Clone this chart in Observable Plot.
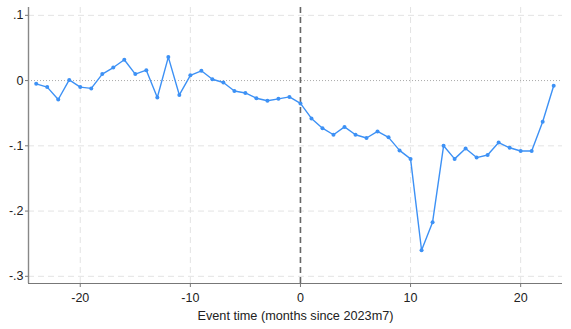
<!DOCTYPE html>
<html>
<head>
<meta charset="utf-8">
<script src="https://cdn.jsdelivr.net/npm/d3@7"></script>
<script src="https://cdn.jsdelivr.net/npm/@observablehq/plot@0.6"></script>
<style>
  html, body { margin: 0; padding: 0; background: #fff; }
  svg { font-family: "Liberation Sans", Arial, sans-serif; }
</style>
</head>
<body>
<div id="chart"></div>
<script>
const eventTime = [-24,-23,-22,-21,-20,-19,-18,-17,-16,-15,-14,-13,-12,-11,-10,-9,-8,-7,-6,-5,-4,-3,-2,-1,0,1,2,3,4,5,6,7,8,9,10,11,12,13,14,15,16,17,18,19,20,21,22,23];
const coef = [-0.005,-0.010,-0.029,0.001,-0.010,-0.012,0.010,0.020,0.032,0.010,0.016,-0.026,0.036,-0.022,0.008,0.015,0.002,-0.003,-0.016,-0.019,-0.027,-0.031,-0.028,-0.025,-0.035,-0.058,-0.073,-0.083,-0.071,-0.083,-0.088,-0.078,-0.087,-0.107,-0.120,-0.260,-0.217,-0.100,-0.120,-0.104,-0.118,-0.114,-0.095,-0.103,-0.108,-0.108,-0.063,-0.008];
const xTicks = [-20,-10,0,10,20];
const yTicks = [-0.3,-0.2,-0.1,0,0.1];
const xLabel = "Event time (months since 2023m7)";

const data = eventTime.map((t, i) => ({t, b: coef[i]}));
const fmtY = d => d === 0 ? "0" : d3.format(".1f")(d).replace("\u2212", "-").replace("0.", ".");
const fmtX = d => String(d).replace("\u2212", "-");

const chart = Plot.plot({
  width: 571,
  height: 329,
  marginLeft: 28,
  marginRight: 9,
  marginTop: 7,
  marginBottom: 46,
  style: {fontFamily: "Liberation Sans, Arial, sans-serif", fontSize: "12px", color: "#222", background: "#fff"},
  x: {domain: [-24.7, 23.8]},
  y: {domain: [-0.311, 0.112]},
  marks: [
    Plot.ruleY(yTicks.filter(d => d !== 0), {stroke: "#e3e3e3", strokeWidth: 1, strokeDasharray: "6,4"}),
    Plot.ruleX(xTicks.filter(d => d !== 0), {stroke: "#e3e3e3", strokeWidth: 1, strokeDasharray: "6,4"}),
    Plot.ruleY([0], {stroke: "#aaa", strokeWidth: 1, strokeDasharray: "1,2"}),
    Plot.ruleX([0], {stroke: "#666", strokeWidth: 1.6, strokeDasharray: "6,4"}),
    Plot.line(data, {x: "t", y: "b", stroke: "#3d91f5", strokeWidth: 1.4}),
    Plot.dot(data, {x: "t", y: "b", fill: "#3d91f5", r: 2}),
    Plot.ruleX([-24.7], {stroke: "#888", strokeWidth: 1.4}),
    Plot.ruleY([-0.311], {stroke: "#777", strokeWidth: 1}),
    Plot.axisY({ticks: yTicks, tickFormat: fmtY, tickSize: 3, tickPadding: 2, stroke: "#777", fill: "#222", fontSize: 12.5, label: null}),
    Plot.axisX({ticks: xTicks, tickFormat: fmtX, tickSize: 4, tickPadding: 6, stroke: "#777", fill: "#222", fontSize: 12.5, label: null}),
    Plot.text([xLabel], {frameAnchor: "bottom", dy: 36, fill: "#222", fontSize: 12.7})
  ]
});
document.getElementById("chart").appendChild(chart);
</script>
</body>
</html>
